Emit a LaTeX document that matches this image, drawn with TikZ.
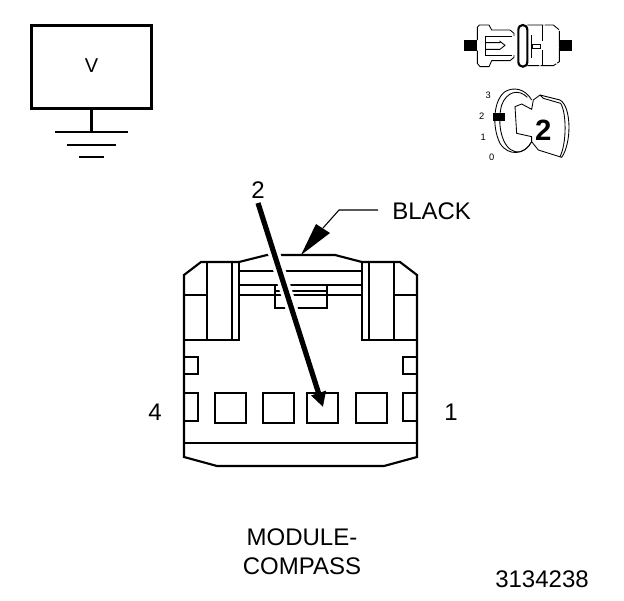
\documentclass[tikz,border=0pt]{standalone}
\usepackage{fontspec}
\setmainfont{Liberation Sans}
\usetikzlibrary{arrows.meta, positioning}
\tikzset{
  hair/.style={line width=0.65pt},
  thinline/.style={line width=0.8pt},
  wall/.style={line width=1.6pt},
  heavy/.style={line width=2.2pt},
  lbl/.style={inner sep=0pt, font=\fontsize{18}{21}\selectfont},
  tiny/.style={inner sep=0pt, font=\fontsize{7}{8}\selectfont},
}
\begin{document}
\begin{tikzpicture}[x=0.75pt, y=-0.75pt]
  \useasboundingbox (0,0) rectangle (624,600);

  % Ground box
  \node[draw, heavy, minimum width=90pt, minimum height=62pt, inner sep=0pt, font=\fontsize{15}{17}\selectfont] (vbox) at (91.5,67) {\raisebox{1.5pt}{V}};
  \coordinate (gnd) at (91.5,132);
  \draw[heavy] (vbox.south) -- (gnd);
  \draw[wall] (55,132) -- (128,132);
  \draw[wall] (67,145) -- (116,145);
  \draw[wall] (79,157) -- (104,157);

  % Connector body
  \draw[wall] (184,340) -- (184,275) -- (201,262) -- (239,262);
  \draw[wall] (362,262) -- (400,262) -- (417,275) -- (417,340);
  \draw[wall] (184,340) -- (184,457) -- (217,466) -- (384,466) -- (417,457) -- (417,340);
  \draw[wall] (184,443) -- (417,443);
  \draw[wall] (184,340) -- (240,340);
  \draw[wall] (361,340) -- (417,340);

  % Towers
  \draw[wall] (239,262) -- (239,340);
  \draw[wall] (362,262) -- (362,340);
  \foreach \x in {207,232,369,394} {
    \draw[thinline] (\x,262) -- (\x,340);
  }
  \draw[thinline] (184,295) -- (207,295);
  \draw[thinline] (394,295) -- (417,295);

  % Latch
  \draw[wall] (239,262) -- (267,255) -- (335,255) -- (362,262);
  \draw[thinline] (239,271) -- (362,271);
  \draw[wall] (239,285) -- (362,285);
  \draw[wall] (239,295) -- (362,295);
  \draw[thinline] (275,291) -- (327,291);
  \draw[thinline] (275,285) -- (275,308) -- (327,308) -- (327,285);

  % Side notches and cavities
  \foreach \ya/\yb in {357/374, 393/421} {
    \draw[wall] (184,\ya) -- (198,\ya) -- (198,\yb) -- (184,\yb);
    \draw[wall] (417,\ya) -- (403,\ya) -- (403,\yb) -- (417,\yb);
  }
  \foreach \xa/\xb in {215/246, 263/294, 307/338, 356/387} {
    \draw[wall] (\xa,393) rectangle (\xb,423);
  }

  % Cavity arrow
  \coordinate (pinstart) at (258,203);
  \coordinate (pinend) at (323,407);
  \draw[white, line width=9pt] (265,225) -- (316,385);
  \draw[line width=3.9pt, -{Triangle[length=11pt, width=11pt]}] (pinstart) -- (pinend);
  \node[lbl] (pinlabel) at (258,190) {2};

  % Colour leader
  \node[lbl, anchor=west] (colorlabel) at (392,211) {BLACK};
  \coordinate (leadknee) at (339,210);
  \coordinate (leadtip) at (301,255);
  \draw[thinline] (378,210) -- (leadknee) -- (323,228);
  \fill (leadtip) -- (316,224) -- (330,233) -- cycle;

  % Pin numbers and captions
  \node[lbl] (pinfour) at (155,412) {4};
  \node[lbl] (pinone) at (451,412) {1};
  \node[lbl] (modname) at (302,537) {MODULE-};
  \node[lbl] (compass) at (302,566) {COMPASS};
  \node[lbl, anchor=east] (partno) at (589,579) {3134238};

  % Terminal view
  \begin{scope}[shift={(450,20)}, x=0.25pt, y=-0.25pt]
    \fill (42,60) rectangle (82,92);
    \fill (326,60) rectangle (366,92);
    \draw[hair] (82,60) -- (82,22) -- (88,15) -- (117,15) -- (125,30) -- (180,30) -- (192,40) -- (192,48);
    \draw[hair] (82,92) -- (82,130) -- (90,140) -- (117,140) -- (125,122) -- (180,122) -- (192,112) -- (192,105);
    \draw[hair] (185,50) -- (105,50) -- (105,105) -- (185,105);
    \draw[hair] (105,68) -- (150,68) -- (150,64) -- (165,76) -- (150,88) -- (105,88);
    \draw[wall] (205,30) .. controls (205,10) and (232,10) .. (232,30) -- (232,125) .. controls (232,145) and (205,145) .. (205,125) -- cycle;
    \draw[hair, dash pattern=on 12pt off 1pt] (232,15) -- (310,15) -- (328,30) -- (328,125) -- (310,137) -- (232,137);
    \draw[hair] (278,15) -- (278,62);
    \draw[hair] (278,90) -- (278,137);
    \draw[hair] (245,45) -- (245,115);
    \draw[hair] (246,72) rectangle (272,84);

    % Disc and key
    \fill (130,278) rectangle (165,303);
    \draw[hair] (245,240) .. controls (225,205) and (190,200) .. (165,215) .. controls (130,240) and (125,320) .. (150,370) .. controls (175,410) and (225,405) .. (245,365);
    \draw[hair] (232,232) .. controls (205,205) and (170,215) .. (155,255) .. controls (140,310) and (155,385) .. (195,395) .. controls (215,400) and (235,385) .. (245,365);
    \draw[hair] (195,260) -- (215,252) -- (245,268) -- (250,240) -- (270,225) -- (330,240) .. controls (365,260) and (365,370) .. (335,412) -- (265,390) -- (245,365) -- (245,350) -- (200,340) -- cycle;
    \draw[hair] (270,225) -- (280,235) -- (332,250) .. controls (350,280) and (350,370) .. (330,410);
    \node[inner sep=0pt, font=\bfseries\fontsize{22}{25}\selectfont] (keynum) at (280,330) {2};
    \node[tiny] (posthree) at (115,225) {3};
    \node[tiny] (postwo) at (95,290) {2};
    \node[tiny] (posone) at (100,353) {1};
    \node[tiny] (poszero) at (125,412) {0};
  \end{scope}
\end{tikzpicture}
\end{document}
